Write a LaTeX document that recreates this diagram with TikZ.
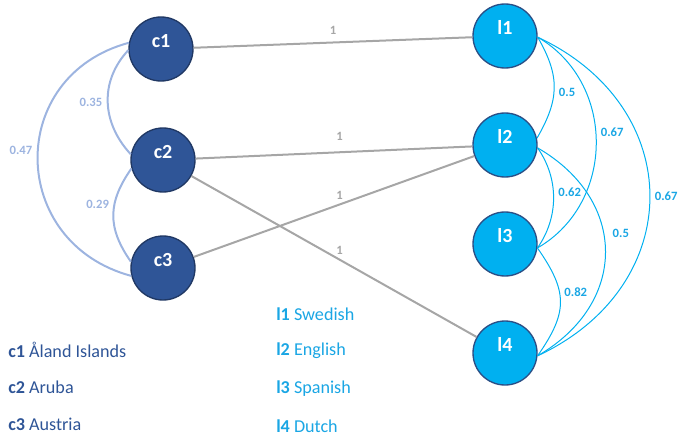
\documentclass[tikz,border=0pt]{standalone}
\usepackage{fontspec}
\setmainfont{Carlito}
\definecolor{countryblue}{HTML}{2F5597}
\definecolor{countryline}{HTML}{203864}
\definecolor{langblue}{HTML}{00B0F0}
\definecolor{langline}{HTML}{2A4F86}
\definecolor{langtext}{HTML}{1AA6E4}
\definecolor{linkgray}{HTML}{A6A6A6}
\definecolor{simblue}{HTML}{9DB4E0}

\begin{document}
\begin{tikzpicture}[x=0.75pt,y=0.75pt,
  country node/.style={circle,fill=countryblue,draw=countryline,line width=1pt,text=white,
    font=\bfseries\fontsize{15}{17}\selectfont,minimum size=48pt,inner sep=0pt,
    text height=9pt,text depth=11pt},
  lang node/.style={country node,fill=langblue,draw=langline},
  link/.style={draw=linkgray,line width=1.5pt},
  link label/.style={text=linkgray,font=\bfseries\fontsize{9.5}{11}\selectfont},
  country sim/.style={draw=simblue,line width=1.5pt},
  country label/.style={text=simblue,font=\bfseries\fontsize{9.5}{11}\selectfont},
  lang sim/.style={draw=langblue,line width=0.75pt},
  lang label/.style={text=langtext,font=\bfseries\fontsize{9.5}{11}\selectfont},
  legend/.style={anchor=west,inner sep=0pt,font=\fontsize{13.6}{16}\selectfont}]
  \useasboundingbox (0,0) rectangle (684,-435);

  \node[country node] (c1) at (161,-49) {c1};
  \node[country node] (c2) at (163,-160) {c2};
  \node[country node] (c3) at (163,-268) {c3};
  \node[lang node] (l1) at (505,-36) {l1};
  \node[lang node] (l2) at (505,-145) {l2};
  \node[lang node] (l3) at (505,-244) {l3};
  \node[lang node] (l4) at (505,-353) {l4};

  % country -- language
  \path[every node/.style={link label}]
    (c1) edge[link] node[above=2pt,pos=0.5] {1} (l1)
    (c2) edge[link] node[above=5pt,pos=0.52] {1} (l2)
    (c2) edge[link] node[above,pos=0.52] {1} (l4)
    (c3) edge[link] node[above,pos=0.52] {1} (l2);

  % country similarity
  \path[every node/.style={country label}]
    (c1.182) edge[country sim,out=227,in=133,looseness=1.05] node[left,pos=0.5] {0.35} (c2.170)
    (c2.195) edge[country sim,out=235,in=125,looseness=1.14] node[left,pos=0.38] {0.29} (c3.169)
    (c1.169) edge[country sim,out=195,in=165,looseness=1.4] node[left,pos=0.47] {0.47} (c3.194);

  % language similarity
  \path[every node/.style={lang label}]
    (l1.358) edge[lang sim,out=-60,in=60,looseness=1.14] node[right,pos=0.55] {0.5} (l2.12)
    (l1.358) edge[lang sim,out=-30,in=30,looseness=1.1] node[right,pos=0.46] {0.67} (l3.353)
    (l1.358) edge[lang sim,out=-25,in=25,looseness=1.33] node[right,pos=0.5] {0.67} (l4.355)
    (l2.355) edge[lang sim,out=-55,in=55,looseness=0.96] node[right,pos=0.45] {0.62} (l3.353)
    (l2.355) edge[lang sim,out=-30,in=30,looseness=1.29] node[right=3pt,pos=0.42] {0.5} (l4.355)
    (l3.353) edge[lang sim,out=-55,in=55,looseness=1.27] node[right,pos=0.4] {0.82} (l4.355);

  % legend
  \node[legend,text=countryblue] (k1) at (8,-350) {\textbf{c1} Åland Islands};
  \node[legend,text=countryblue] (k2) at (8,-387) {\textbf{c2} Aruba};
  \node[legend,text=countryblue] (k3) at (8,-424) {\textbf{c3} Austria};
  \node[legend,text=langtext] (m1) at (276,-314) {\textbf{l1} Swedish};
  \node[legend,text=langtext] (m2) at (276,-351) {\textbf{l2} English};
  \node[legend,text=langtext] (m3) at (276,-389) {\textbf{l3} Spanish};
  \node[legend,text=langtext] (m4) at (276,-426) {\textbf{l4} Dutch};
\end{tikzpicture}
\end{document}
